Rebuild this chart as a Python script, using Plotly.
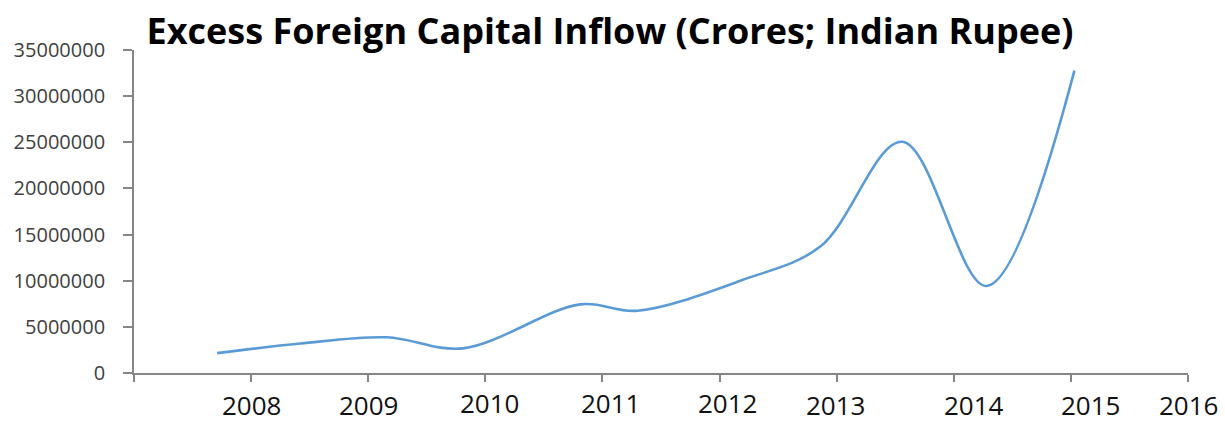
import plotly.graph_objects as go

# ---- data ----
years = [2007.71, 2008.42, 2009.16, 2009.81, 2010.81, 2011.30, 2012.20, 2012.86, 2013.56, 2014.28, 2015.03]
inflow = [2150000, 3200000, 3870000, 2670000, 7440000, 6750000, 10100000, 13700000, 25060000, 9430000, 32760000]

x_tick_years = [2007, 2008, 2009, 2010, 2011, 2012, 2013, 2014, 2015, 2016]
x_labels = ["2008", "2009", "2010", "2011", "2012", "2013", "2014", "2015", "2016"]
x_label_years = [2008, 2009, 2010, 2011, 2012, 2013, 2014, 2015, 2016]
y_ticks = [0, 5000000, 10000000, 15000000, 20000000, 25000000, 30000000, 35000000]

# styling offsets for the x labels (pixels), as placed in the reference
label_dx = [0, 0, 4, 8, 8, -1, 20, 20, 0]
label_dy = [32, 32, 30, 30, 30, 32, 32, 32, 32]

fig = go.Figure()
fig.add_trace(go.Scatter(
    x=years, y=inflow, mode="lines",
    line=dict(color="#5B9BD5", width=2.6, shape="spline", smoothing=1.0),
    hoverinfo="x+y", showlegend=False,
))

annotations = []
for lab, yr, dx, dy in zip(x_labels, x_label_years, label_dx, label_dy):
    annotations.append(dict(
        x=yr, y=0, xref="x", yref="paper", text=lab, showarrow=False,
        xanchor="center", yanchor="middle", xshift=dx, yshift=-dy, borderpad=0,
        font=dict(family="Open Sans", size=26, color="#111111"),
    ))

fig.update_layout(
    width=1225, height=423,
    margin=dict(l=134, r=37, t=50, b=50),
    paper_bgcolor="white", plot_bgcolor="white",
    title=dict(
        text="<b>Excess Foreign Capital Inflow (Crores; Indian Rupee)</b>",
        x=0.498, xanchor="center", y=0.955, yanchor="top",
        font=dict(family="Open Sans", size=36, color="#000000"),
    ),
    annotations=annotations,
    xaxis=dict(
        range=[2007, 2016], tickmode="array", tickvals=x_tick_years,
        showticklabels=False, ticks="outside", ticklen=7, tickcolor="#868686", tickwidth=1.5,
        showline=True, linecolor="#868686", linewidth=1.8, showgrid=False, zeroline=False,
        fixedrange=True,
    ),
    yaxis=dict(
        range=[0, 35000000], tickmode="array", tickvals=y_ticks,
        ticktext=[str(v) for v in y_ticks],
        ticks="outside", ticklen=9, tickcolor="#868686", tickwidth=1.5,
        ticklabelstandoff=14,
        showline=True, linecolor="#868686", linewidth=1.8, showgrid=False, zeroline=False,
        tickfont=dict(family="Open Sans", size=20, color="#404040"),
        fixedrange=True,
    ),
)

fig.write_html("out.html")
